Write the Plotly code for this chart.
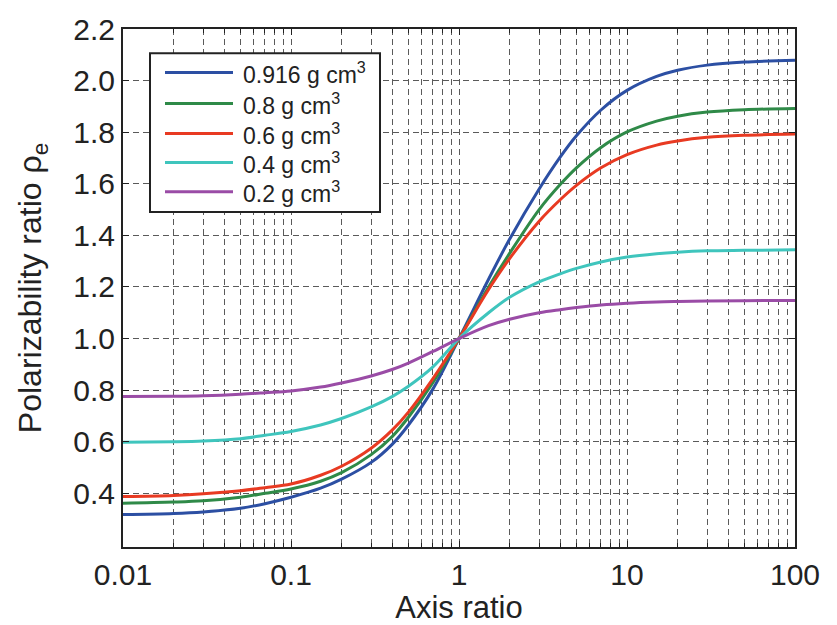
import plotly.graph_objects as go

# ---- data ----
axis_ratio = [0.01, 0.02, 0.03, 0.05, 0.07, 0.1, 0.15, 0.2, 0.3, 0.4, 0.5, 0.7, 1,
              1.5, 2, 3, 4, 5, 7, 10, 15, 20, 30, 50, 100]
rho_0916 = [0.318, 0.322, 0.328, 0.342, 0.36, 0.385, 0.42, 0.455, 0.52, 0.59, 0.665, 0.805, 1.0,
            1.23, 1.385, 1.58, 1.703, 1.786, 1.886, 1.962, 2.016, 2.040, 2.060, 2.072, 2.079]
rho_08 = [0.362, 0.366, 0.371, 0.385, 0.40, 0.417, 0.447, 0.48, 0.55, 0.62, 0.695, 0.83, 1.0,
          1.2, 1.33, 1.50, 1.597, 1.662, 1.741, 1.801, 1.843, 1.862, 1.878, 1.887, 1.892]
rho_06 = [0.388, 0.392, 0.398, 0.41, 0.422, 0.436, 0.47, 0.505, 0.575, 0.645, 0.715, 0.845, 1.0,
          1.19, 1.31, 1.455, 1.538, 1.594, 1.662, 1.713, 1.750, 1.766, 1.780, 1.788, 1.793]
rho_04 = [0.598, 0.600, 0.603, 0.612, 0.625, 0.64, 0.665, 0.69, 0.735, 0.775, 0.815, 0.89, 1.0,
          1.10, 1.16, 1.22, 1.251, 1.272, 1.297, 1.316, 1.329, 1.335, 1.340, 1.342, 1.344]
rho_02 = [0.775, 0.776, 0.778, 0.784, 0.79, 0.797, 0.812, 0.828, 0.855, 0.88, 0.905, 0.95, 1.0,
          1.05, 1.075, 1.10, 1.112, 1.12, 1.13, 1.137, 1.142, 1.144, 1.146, 1.147, 1.148]

series_labels = ["0.916 g cm<sup>3</sup>", "0.8 g cm<sup>3</sup>", "0.6 g cm<sup>3</sup>",
                 "0.4 g cm<sup>3</sup>", "0.2 g cm<sup>3</sup>"]
series_values = [rho_0916, rho_08, rho_06, rho_04, rho_02]
series_colors = ["#2c4fa3", "#2f8a48", "#e83a22", "#3fc5bd", "#9a4ca6"]

x_tickvals = [0.01, 0.1, 1, 10, 100]
x_ticktext = ["0.01", "0.1", "1", "10", "100"]
x_minor = [m * d for d in [0.01, 0.1, 1, 10] for m in range(2, 10)]
y_tickvals = [0.4, 0.6, 0.8, 1.0, 1.2, 1.4, 1.6, 1.8, 2.0, 2.2]
y_ticktext = ["0.4", "0.6", "0.8", "1.0", "1.2", "1.4", "1.6", "1.8", "2.0", "2.2"]

FONT = "Liberation Sans, Arial, sans-serif"
GRID = "#5a5a5a"
TXT = "#222"

fig = go.Figure()
for lab, vals, col in zip(series_labels, series_values, series_colors):
    fig.add_trace(go.Scatter(x=axis_ratio, y=vals, mode="lines", name=lab,
                             line=dict(color=col, width=3, shape="spline", smoothing=1.0),
                             showlegend=False))

# manual legend (box, line samples, labels) in paper coordinates
W, H, L, T = 672.0, 535.0, 123.0, 18.0
def px(x):
    return (x - L) / W
def py(y):
    return (T + H - y) / H

shapes = [dict(type="rect", xref="paper", yref="paper",
               x0=px(150), x1=px(380), y0=py(207), y1=py(43),
               fillcolor="white", line=dict(color=TXT, width=2), layer="above")]
annotations = []
rows = [63, 95, 126, 156, 186]
for r, lab, col in zip(rows, series_labels, series_colors):
    shapes.append(dict(type="line", xref="paper", yref="paper",
                       x0=px(165), x1=px(233), y0=py(r), y1=py(r),
                       line=dict(color=col, width=3), layer="above"))
    annotations.append(dict(xref="paper", yref="paper", x=px(241), y=py(r),
                            text=lab, showarrow=False, xanchor="left", yanchor="middle",
                            font=dict(family=FONT, size=23, color=TXT)))

fig.update_layout(
    width=837, height=625,
    margin=dict(l=123, r=42, t=18, b=72),
    paper_bgcolor="white", plot_bgcolor="white",
    font=dict(family=FONT, color=TXT),
    shapes=shapes, annotations=annotations,
)
fig.update_xaxes(
    type="log", range=[-2, 2],
    tickmode="array", tickvals=x_tickvals, ticktext=x_ticktext,
    tickfont=dict(size=30, family=FONT, color=TXT),
    ticks="inside", ticklen=6, tickcolor=TXT, tickwidth=1,
    showline=True, linecolor=TXT, linewidth=2, mirror="ticks",
    showgrid=True, gridcolor=GRID, gridwidth=1, griddash="6px,4px",
    minor=dict(tickmode="array", tickvals=x_minor, ticks="inside", ticklen=4,
               tickcolor=TXT, showgrid=True, gridcolor=GRID, gridwidth=1,
               griddash="6px,4px"),
    title=dict(text="Axis ratio", font=dict(size=31, family=FONT, color=TXT), standoff=0),
    zeroline=False,
)
fig.update_yaxes(
    range=[0.192, 2.2],
    tickmode="array", tickvals=y_tickvals, ticktext=y_ticktext,
    tickfont=dict(size=30, family=FONT, color=TXT),
    ticks="inside", ticklen=6, tickcolor=TXT, tickwidth=1,
    showline=True, linecolor=TXT, linewidth=2, mirror="ticks",
    showgrid=True, gridcolor=GRID, gridwidth=1, griddash="6px,4px",
    title=dict(text="Polarizability ratio ρ<sub>e</sub>", font=dict(size=32, family=FONT, color=TXT), standoff=22),
    zeroline=False,
)

fig.write_html("out.html")
